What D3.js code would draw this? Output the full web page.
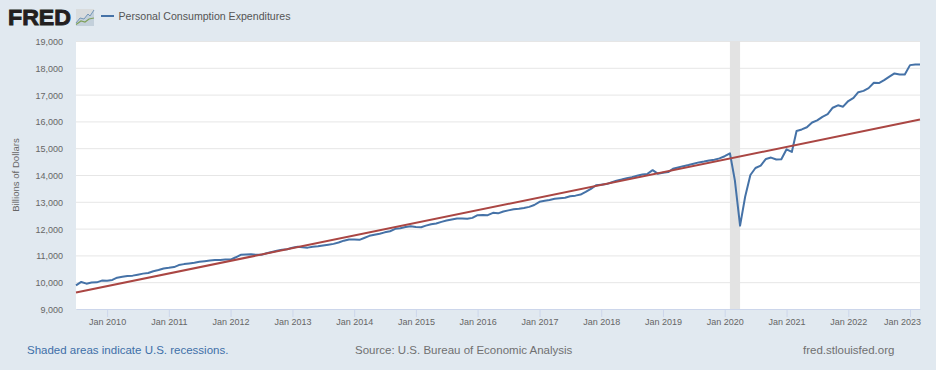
<!DOCTYPE html>
<html>
<head>
<meta charset="utf-8">
<script src="https://cdn.jsdelivr.net/npm/d3@7"></script>
<style>
  html, body { margin: 0; padding: 0; background: #e1e9f0; }
  svg { display: block; }
  text { font-family: "Liberation Sans", Arial, sans-serif; }
</style>
</head>
<body>
<div id="chart"></div>
<script>
// monthly values in billions, Jul 2009 - Mar 2023
const firstMonth = new Date(2009, 6, 1);
const values2009 = [9880, 10010, 9945, 9985, 9995, 10060];
const values2010 = [10055, 10085, 10170, 10200, 10230, 10245, 10280, 10320, 10345, 10410, 10455, 10510];
const values2011 = [10535, 10565, 10640, 10675, 10700, 10725, 10760, 10785, 10810, 10830, 10830, 10845];
const values2012 = [10845, 10930, 11020, 11030, 11040, 11020, 11020, 11080, 11130, 11170, 11215, 11230];
const values2013 = [11290, 11320, 11300, 11290, 11320, 11340, 11370, 11400, 11430, 11480, 11550, 11590];
const values2014 = [11590, 11580, 11650, 11730, 11770, 11810, 11860, 11900, 11990, 12010, 12060, 12090];
const values2015 = [12060, 12050, 12110, 12160, 12190, 12250, 12300, 12340, 12380, 12380, 12370, 12400];
const values2016 = [12500, 12510, 12500, 12590, 12570, 12640, 12680, 12720, 12740, 12770, 12810, 12880];
const values2017 = [13000, 13040, 13070, 13110, 13130, 13150, 13210, 13230, 13270, 13370, 13480, 13620];
const values2018 = [13640, 13660, 13720, 13790, 13830, 13880, 13920, 13970, 14020, 14040, 14180, 14050];
const values2019 = [14080, 14110, 14230, 14280, 14330, 14370, 14420, 14470, 14500, 14540, 14570, 14620];
const values2020 = [14700, 14810, 13810, 12110, 13190, 14000, 14260, 14350, 14600, 14650, 14580, 14590];
const values2021 = [14960, 14860, 15640, 15700, 15780, 15960, 16040, 16170, 16270, 16510, 16600, 16550];
const values2022 = [16760, 16880, 17090, 17140, 17240, 17440, 17430, 17540, 17670, 17790, 17750, 17750];
const values2023 = [18100, 18120, 18120];

const pceValues = [].concat(values2009, values2010, values2011, values2012, values2013, values2014, values2015,
  values2016, values2017, values2018, values2019, values2020, values2021, values2022, values2023);

// red trend line, start and end
const trendDates = [new Date(2009, 6, 1), new Date(2023, 2, 1)];
const trendValues = [9615, 16070];

const recessionDates = [new Date(2020, 1, 1), new Date(2020, 3, 1)];
const yTicks = [9000, 10000, 11000, 12000, 13000, 14000, 15000, 16000, 17000, 18000, 19000];
const tickYears = [2010, 2011, 2012, 2013, 2014, 2015, 2016, 2017, 2018, 2019, 2020, 2021, 2022, 2023];

const margin = { top: 41, right: 16, bottom: 61, left: 76 },
  width = 936 - margin.left - margin.right,
  height = 370 - margin.top - margin.bottom;

const root = d3.select("#chart")
  .append("svg")
  .attr("width", 936)
  .attr("height", 370);

const svg = root.append("g")
  .attr("transform", `translate(${margin.left},${margin.top})`);

const xScale = d3.scaleTime()
  .domain([firstMonth, d3.timeMonth.offset(firstMonth, pceValues.length - 1)])
  .range([0, width]);

const yScale = d3.scaleLinear()
  .domain([9000, 19000])
  .range([height, 0]);

svg.append("rect")
  .attr("width", width)
  .attr("height", height)
  .attr("fill", "#ffffff");

// gridlines
const yAxis = d3.axisLeft(yScale)
  .tickValues(yTicks)
  .tickFormat(d3.format(","))
  .tickSize(-width)
  .tickPadding(13);

const yGroup = svg.append("g").attr("class", "y-axis").call(yAxis);
yGroup.select(".domain").remove();
yGroup.selectAll("line").attr("stroke", "#e6e6e6").attr("stroke-width", 1);
yGroup.selectAll("text").attr("fill", "#666666").attr("font-size", 9).attr("y", 0.7);

// recession band sits over the grid
svg.append("rect")
  .attr("x", xScale(recessionDates[0]))
  .attr("y", 0)
  .attr("width", xScale(recessionDates[1]) - xScale(recessionDates[0]))
  .attr("height", height)
  .attr("fill", "#e3e3e3");

const xAxis = d3.axisBottom(xScale)
  .tickValues(tickYears.map(y => new Date(y, 0, 1)))
  .tickFormat(d3.timeFormat("%b %Y"))
  .tickSize(8)
  .tickSizeOuter(0)
  .tickPadding(2);

const xGroup = svg.append("g")
  .attr("class", "x-axis")
  .attr("transform", `translate(0,${height})`)
  .call(xAxis);
xGroup.select(".domain").attr("stroke", "#ccd6eb");
xGroup.selectAll("line").attr("stroke", "#ccd6eb");
xGroup.selectAll("text").attr("fill", "#666666").attr("font-size", 9);
// last label is pushed left so it stays inside the plot edge
xGroup.selectAll(".tick").filter((d, i) => i == tickYears.length - 1).select("text").attr("dx", -8);

const line = d3.line()
  .x(d => xScale(d.date))
  .y(d => yScale(d.value));

const trendData = trendDates.map((d, i) => ({ date: d, value: trendValues[i] }));
const pceData = pceValues.map((v, i) => ({ date: d3.timeMonth.offset(firstMonth, i), value: v }));

svg.append("path")
  .datum(pceData)
  .attr("fill", "none")
  .attr("stroke", "#4572a7")
  .attr("stroke-width", 2)
  .attr("stroke-linejoin", "round")
  .attr("d", line);

svg.append("path")
  .datum(trendData)
  .attr("fill", "none")
  .attr("stroke", "#aa4643")
  .attr("stroke-width", 2)
  .attr("d", line);

root.append("text")
  .attr("transform", `translate(19,${margin.top + height / 2}) rotate(-90)`)
  .attr("text-anchor", "middle")
  .attr("fill", "#666666")
  .attr("font-size", 9.6)
  .text("Billions of Dollars");

// header: logo and legend
root.append("text")
  .attr("x", 8)
  .attr("y", 25)
  .attr("fill", "#231f20")
  .attr("stroke", "#231f20")
  .attr("stroke-width", 0.9)
  .attr("font-size", 22.5)
  .attr("font-weight", "bold")
  .attr("textLength", 63)
  .attr("lengthAdjust", "spacingAndGlyphs")
  .text("FRED");

root.append("rect")
  .attr("x", 76).attr("y", 9).attr("width", 18).attr("height", 17)
  .attr("fill", "#d9dcdd");
root.append("path")
  .attr("d", "M76,23 L80,18 L84,19 L88,14 L90,16 L94,10 L94,26 L76,26 Z")
  .attr("fill", "#c3d0db").attr("stroke", "none");
root.append("path")
  .attr("d", "M76,23 L80,18 L84,19 L88,14 L90,16 L94,10")
  .attr("fill", "none").attr("stroke", "#7396b8").attr("stroke-width", 1);
root.append("path")
  .attr("d", "M76,24.5 L81,21 L85,22 L89,19 L94,18")
  .attr("fill", "none").attr("stroke", "#7fa05a").attr("stroke-width", 1.2);

root.append("line")
  .attr("x1", 101).attr("x2", 114).attr("y1", 16).attr("y2", 16)
  .attr("stroke", "#4572a7").attr("stroke-width", 2);

root.append("text")
  .attr("x", 118.5)
  .attr("y", 20)
  .attr("fill", "#555555")
  .attr("font-size", 10.6)
  .text("Personal Consumption Expenditures");

// footer
root.append("text")
  .attr("x", 27).attr("y", 354)
  .attr("fill", "#3e6fa8")
  .attr("font-size", 11.5)
  .text("Shaded areas indicate U.S. recessions.");

root.append("text")
  .attr("x", 355).attr("y", 354)
  .attr("fill", "#707070")
  .attr("font-size", 11.5)
  .text("Source: U.S. Bureau of Economic Analysis");

root.append("text")
  .attr("x", 803).attr("y", 354)
  .attr("fill", "#707070")
  .attr("font-size", 11.5)
  .text("fred.stlouisfed.org");
</script>
</body>
</html>
